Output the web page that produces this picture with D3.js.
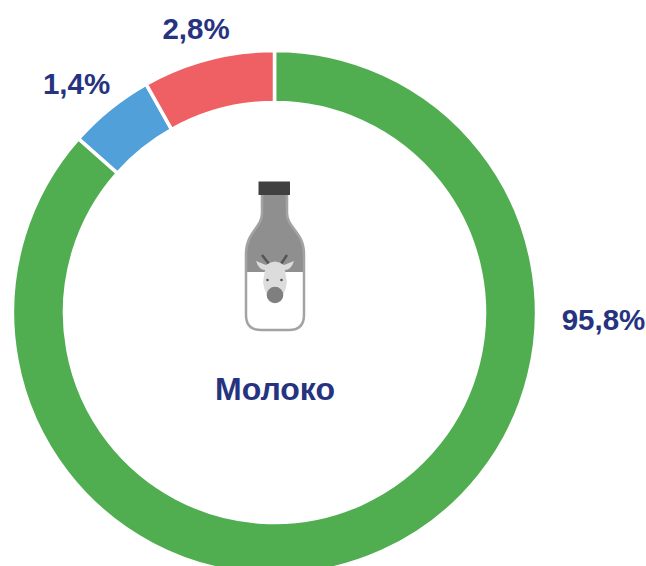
<!DOCTYPE html>
<html>
<head>
<meta charset="utf-8">
<script src="https://cdn.jsdelivr.net/npm/d3@7"></script>
<style>
html,body{margin:0;padding:0;background:#fff;overflow:hidden}
text{font-family:"Liberation Sans",Arial,sans-serif;font-weight:bold;fill:#26337f}
</style>
</head>
<body>
<script>
// slices go clockwise from 12 o'clock
const categories = ["green", "blue", "red"];
// arc shares as measured on the picture (the printed labels are not to scale)
const arcShares = [86.55, 5.3, 8.15];
const labels = ["95,8%", "1,4%", "2,8%"];
const title = "Молоко";

const w = 646;
const h = 566;
const cx = 274.5;
const cy = 312.5;
const outerR = 262;
const innerR = 210;

const colors = d3.scaleOrdinal()
  .domain(categories)
  .range(["#50ae50", "#52a0d9", "#ee6063"]);

// label anchors, relative to the ring centre
const labelPos = [[329, 17.5], [-198, -218.5], [-78.5, -273.5]];

const svg = d3.select("body")
  .append("svg")
  .attr("width", w)
  .attr("height", h)
  .style("display", "block");

const ring = svg.append("g")
  .attr("transform", "translate(" + cx + "," + cy + ")");

const pie = d3.pie().sort(null);
const arc = d3.arc().innerRadius(innerR).outerRadius(outerR);

ring.selectAll("path")
  .data(pie(arcShares))
  .enter()
  .append("path")
  .attr("d", arc)
  .attr("fill", function(d, i){
    return colors(categories[i]);
  })
  .attr("stroke", "#fff")
  .attr("stroke-width", 3.5);

ring.selectAll("text.pct")
  .data(labels)
  .enter()
  .append("text")
  .attr("class", "pct")
  .attr("x", function(d, i){ return labelPos[i][0]; })
  .attr("y", function(d, i){ return labelPos[i][1]; })
  .attr("text-anchor", "middle")
  .attr("font-size", 29.5)
  .text(function(d){ return d; });

svg.append("text")
  .attr("x", 275)
  .attr("y", 400)
  .attr("text-anchor", "middle")
  .attr("font-size", 32)
  .text(title);

// bottle icon, slightly soft like the source image
svg.append("defs").append("filter").attr("id", "soft")
  .append("feGaussianBlur").attr("stdDeviation", 0.5);

const icon = svg.append("g")
  .attr("transform", "translate(225,170)")
  .attr("filter", "url(#soft)");
const bottle = "M37,22 L62,22 L62,43 C62,58 79,62 79,84 L79,145 Q79,160 64,160 L36,160 Q21,160 21,145 L21,84 C21,62 37,58 37,43 Z";
icon.append("path").attr("d", bottle).attr("fill", "#fff");
icon.append("path")
  .attr("d", "M37,22 L62,22 L62,43 C62,58 79,62 79,84 L79,102 L21,102 L21,84 C21,62 37,58 37,43 Z")
  .attr("fill", "#8f8f8f");
icon.append("path").attr("d", bottle).attr("fill", "none").attr("stroke", "#a3a3a3").attr("stroke-width", 2.5);
icon.append("rect").attr("x", 33.5).attr("y", 11.5).attr("width", 31.5).attr("height", 13.5).attr("fill", "#414141");
// cow head
icon.append("path").attr("d", "M44,94 L37,85 M56,94 L62,85").attr("stroke", "#555").attr("stroke-width", 2.5).attr("fill", "none");
icon.append("path")
  .attr("d", "M31,91 L41,95 Q50,88 59,95 L69,91 Q66,100 60,100 L62,112 Q60,127 50,133 Q40,127 38,112 L40,100 Q34,100 31,91 Z")
  .attr("fill", "#dcdcdc");
icon.append("circle").attr("cx", 50).attr("cy", 125).attr("r", 8.3).attr("fill", "#7f7f7f");
icon.append("circle").attr("cx", 42.5).attr("cy", 110).attr("r", 1.3).attr("fill", "#555");
icon.append("circle").attr("cx", 56.5).attr("cy", 110).attr("r", 1.3).attr("fill", "#555");
</script>
</body>
</html>
